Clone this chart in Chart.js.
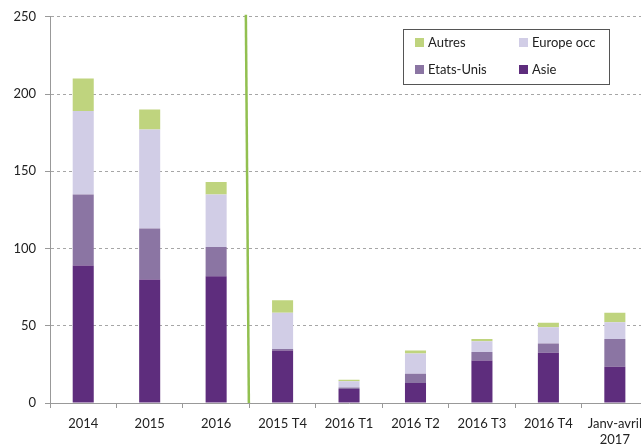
<!DOCTYPE html>
<html>
  <head>
    <title>Répartition</title>
    <script src="https://cdn.jsdelivr.net/npm/chart.js"></script>
    <style>
      html, body { margin: 0; padding: 0; overflow: hidden; background: #fff; }
      #wrap { position: absolute; left: 0; top: 0; }
    </style>
  </head>
  <body>
    <div id="wrap">
      <canvas id="monGraphique" width="650" height="450"></canvas>
    </div>
    <script>
      // categories et valeurs
      var periodes = ["2014", "2015", "2016", "2015 T4", "2016 T1", "2016 T2", "2016 T3", "2016 T4", ["Janv-avril", "2017"]];
      var asie = [89, 80, 82, 34, 9, 13, 27.5, 32.5, 23.5];
      var etatsUnis = [46, 33, 19, 1, 1, 6, 5.5, 6, 18];
      var europeOcc = [54, 64, 34, 23.5, 4, 13, 7, 10.5, 10.7];
      var autres = [21, 13, 8, 8, 1, 2, 1.5, 3, 6.3];
      var ticksY = [0, 50, 100, 150, 200, 250];

      var police = "Lato, 'Open Sans', sans-serif";

      // trait vert de separation + legende en cadre
      var separateur = {
        id: "separateur",
        afterDatasetsDraw: function (chart) {
          var c = chart.ctx;
          var x = chart.scales.x;
          var y = chart.scales.y;
          var bx = (x.getPixelForValue(2) + x.getPixelForValue(3)) / 2;
          c.save();
          c.strokeStyle = "#92c050";
          c.lineWidth = 2.5;
          c.beginPath();
          c.moveTo(bx - 3.5, y.getPixelForValue(250) - 2);
          c.lineTo(bx - 0.5, y.getPixelForValue(0));
          c.stroke();
          c.restore();
        },
        afterDraw: function (chart) {
          var c = chart.ctx;
          c.save();
          c.fillStyle = "#fff";
          c.fillRect(403, 29, 206, 55);
          c.strokeStyle = "#555";
          c.lineWidth = 1;
          c.strokeRect(403.5, 29.5, 206, 55);
          var items = [
            [3, 415, 43], [2, 519, 43],
            [1, 415, 70], [0, 519, 70]
          ];
          c.font = "13px " + police;
          c.textBaseline = "middle";
          items.forEach(function (it) {
            var ds = chart.data.datasets[it[0]];
            c.fillStyle = ds.backgroundColor;
            c.fillRect(it[1], it[2] - 5, 9, 9);
            c.fillStyle = "#222";
            c.fillText(ds.label, it[1] + 13, it[2]);
          });
          c.restore();
        }
      };

      var ctx = document.getElementById("monGraphique").getContext("2d");
      var monGraphique = new Chart(ctx, {
        type: "bar",
        data: {
          labels: periodes,
          datasets: [
            { label: "Asie", data: asie, backgroundColor: "#5e2d7d" },
            { label: "Etats-Unis", data: etatsUnis, backgroundColor: "#8b75a3" },
            { label: "Europe occ", data: europeOcc, backgroundColor: "#d1cde6" },
            { label: "Autres", data: autres, backgroundColor: "#bfd47e" }
          ]
        },
        options: {
          responsive: false,
          animation: false,
          layout: { padding: { top: 16, left: 0, right: 0, bottom: 0 } },
          datasets: { bar: { barPercentage: 0.48, categoryPercentage: 0.66 } },
          plugins: {
            legend: { display: false },
            tooltip: { enabled: false }
          },
          scales: {
            x: {
              stacked: true,
              afterFit: function (s) { s.height = 47; },
              grid: {
                offset: true,
                drawOnChartArea: false,
                drawTicks: true,
                tickLength: 5,
                tickColor: "#999"
              },
              border: { color: "#999", width: 1 },
              ticks: {
                padding: 8,
                maxRotation: 0,
                autoSkip: false,
                color: "#222",
                font: { family: police, size: 13 }
              }
            },
            y: {
              stacked: true,
              min: 0,
              max: 250,
              afterFit: function (s) { s.width = 50; },
              afterBuildTicks: function (s) {
                s.ticks = ticksY.map(function (v) { return { value: v }; });
              },
              grid: {
                color: "#a6a6a6",
                tickLength: 5,
                tickColor: "#999",
                tickBorderDash: []
              },
              border: { color: "#999", width: 1, dash: [3, 3] },
              ticks: {
                padding: 9,
                color: "#222",
                font: { family: police, size: 13 }
              }
            }
          }
        },
        plugins: [separateur]
      });
    </script>
  </body>
</html>
